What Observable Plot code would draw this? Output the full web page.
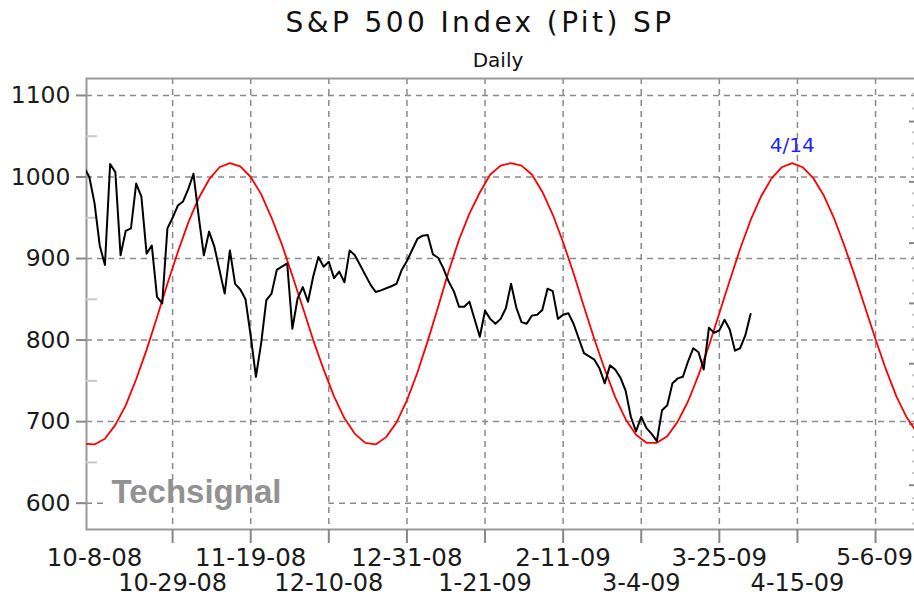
<!DOCTYPE html>
<html>
<head>
<meta charset="utf-8">
<script src="https://cdn.jsdelivr.net/npm/d3@7"></script>
<script src="https://cdn.jsdelivr.net/npm/@observablehq/plot@0.6"></script>
<style>
  html, body { margin: 0; padding: 0; background: #fff; overflow: hidden; }
  #wrap { position: relative; width: 914px; height: 596px; overflow: hidden; }
  #title { position: absolute; left: 480px; top: 9px; transform: translateX(-50%);
    font: 28px/28px "DejaVu Sans", Verdana, sans-serif; letter-spacing: 3.4px; color: #111; white-space: nowrap; }
  #subtitle { position: absolute; left: 498px; top: 50px; transform: translateX(-50%);
    font: 20px/20px "DejaVu Sans", Verdana, sans-serif; color: #111; white-space: nowrap; }
  #chart { position: absolute; left: 0; top: 72px; width: 930px; }
  #chart svg { max-width: none !important; width: 930px; height: 524px; }
</style>
</head>
<body>
<div id="wrap">
  <div id="title">S&amp;P 500 Index (Pit) SP</div>
  <div id="subtitle">Daily</div>
  <div id="chart"></div>
</div>
<script>
// ---- data ----
const tickDates = ["2008-10-08","2008-10-29","2008-11-19","2008-12-10","2008-12-31","2009-01-21","2009-02-11","2009-03-04","2009-03-25","2009-04-15","2009-05-06"];
const tickLabels = ["10-8-08","10-29-08","11-19-08","12-10-08","12-31-08","1-21-09","2-11-09","3-4-09","3-25-09","4-15-09","5-6-09"];
const yTicks = [600, 700, 800, 900, 1000, 1100];
const yMinorTicks = [650, 750, 850, 950, 1050];
const rightMajorTicks = [1068, 994, 919, 845, 771, 697, 622];
const rightMinorTicks = [1102, 1084, 1055, 1041, 1024, 1010, 980, 965, 951, 937, 902, 888, 873, 857, 831, 816, 802, 788, 757, 743, 728, 710, 681, 665, 651, 637, 606, 592, 575];

const blackDates = [
 "2008-10-06","2008-10-07","2008-10-08","2008-10-09","2008-10-10",
 "2008-10-13","2008-10-14","2008-10-15","2008-10-16","2008-10-17",
 "2008-10-20","2008-10-21","2008-10-22","2008-10-23","2008-10-24",
 "2008-10-27","2008-10-28","2008-10-29","2008-10-30","2008-10-31",
 "2008-11-03","2008-11-04","2008-11-05","2008-11-06","2008-11-07",
 "2008-11-10","2008-11-11","2008-11-12","2008-11-13","2008-11-14",
 "2008-11-17","2008-11-18","2008-11-19","2008-11-20","2008-11-21",
 "2008-11-24","2008-11-25","2008-11-26","2008-11-28",
 "2008-12-01","2008-12-02","2008-12-03","2008-12-04","2008-12-05",
 "2008-12-08","2008-12-09","2008-12-10","2008-12-11","2008-12-12",
 "2008-12-15","2008-12-16","2008-12-17","2008-12-18","2008-12-19",
 "2008-12-22","2008-12-23","2008-12-24","2008-12-26",
 "2008-12-29","2008-12-30","2008-12-31","2009-01-02",
 "2009-01-05","2009-01-06","2009-01-07","2009-01-08","2009-01-09",
 "2009-01-12","2009-01-13","2009-01-14","2009-01-15","2009-01-16",
 "2009-01-20","2009-01-21","2009-01-22","2009-01-23",
 "2009-01-26","2009-01-27","2009-01-28","2009-01-29","2009-01-30",
 "2009-02-02","2009-02-03","2009-02-04","2009-02-05","2009-02-06",
 "2009-02-09","2009-02-10","2009-02-11","2009-02-12","2009-02-13",
 "2009-02-17","2009-02-18","2009-02-19","2009-02-20",
 "2009-02-23","2009-02-24","2009-02-25","2009-02-26","2009-02-27",
 "2009-03-02","2009-03-03","2009-03-04","2009-03-05","2009-03-06",
 "2009-03-09","2009-03-10","2009-03-11","2009-03-12","2009-03-13",
 "2009-03-16","2009-03-17","2009-03-18","2009-03-19","2009-03-20",
 "2009-03-23","2009-03-24","2009-03-25","2009-03-26","2009-03-27",
 "2009-03-30","2009-03-31","2009-04-01","2009-04-02"
];
const blackValues = [
 1012, 1000, 968, 916, 892,
 1016, 1006, 904, 934, 937,
 992, 976, 906, 916, 853,
 845, 937, 950, 965, 970,
 985, 1004, 952, 904, 933,
 915, 886, 857, 910, 869,
 862, 850, 805, 755, 796,
 849, 857, 886, 894,
 814, 851, 865, 847, 878,
 902, 890, 896, 876, 884,
 871, 910, 904, 892, 880,
 868, 859, 861, 866,
 869, 886, 897, 924,
 928, 929, 905, 901, 888,
 872, 860, 841, 841, 847,
 804, 836, 826, 820,
 826, 839, 869, 840, 822,
 820, 830, 831, 837, 863,
 860, 826, 831, 833, 820,
 784, 780, 776, 765,
 747, 769, 764, 754, 738,
 706, 688, 706, 692, 685,
 676, 714, 720, 747, 753,
 755, 774, 790, 785, 764,
 815, 809, 812, 825, 813,
 787, 790, 806, 832
];

const redDates = [
 "2008-10-06","2008-10-08","2008-10-10","2008-10-14","2008-10-16","2008-10-20","2008-10-22","2008-10-24",
 "2008-10-28","2008-10-30","2008-11-03","2008-11-05","2008-11-07","2008-11-11","2008-11-13","2008-11-17",
 "2008-11-19","2008-11-21","2008-11-25","2008-11-27","2008-12-01","2008-12-03","2008-12-05","2008-12-09",
 "2008-12-11","2008-12-15","2008-12-17","2008-12-19","2008-12-23","2008-12-25","2008-12-29","2008-12-31",
 "2009-01-02","2009-01-06","2009-01-08","2009-01-12","2009-01-14","2009-01-16","2009-01-20","2009-01-22",
 "2009-01-26","2009-01-28","2009-01-30","2009-02-03","2009-02-05","2009-02-09","2009-02-11","2009-02-13",
 "2009-02-17","2009-02-19","2009-02-23","2009-02-25","2009-02-27","2009-03-03","2009-03-05","2009-03-09",
 "2009-03-11","2009-03-13","2009-03-17","2009-03-19","2009-03-23","2009-03-25","2009-03-27","2009-03-31",
 "2009-04-02","2009-04-06","2009-04-08","2009-04-10","2009-04-14","2009-04-16","2009-04-20","2009-04-22",
 "2009-04-24","2009-04-28","2009-04-30","2009-05-04","2009-05-06","2009-05-08","2009-05-12","2009-05-14",
 "2009-05-18","2009-05-20"
];
const redValues = [
 673, 672, 679, 696, 720, 752, 788, 828,
 869, 908, 944, 974, 997, 1012, 1017, 1013,
 1000, 979, 950, 917, 879, 840, 800, 764,
 731, 704, 685, 674, 672, 681, 699, 726,
 760, 799, 841, 884, 923, 955, 981, 1003,
 1014, 1017, 1014, 1003, 982, 954, 920, 882,
 841, 801, 764, 730, 703, 684, 674, 674,
 682, 700, 725, 757, 793, 833, 873, 912,
 947, 976, 998, 1012, 1017, 1012, 999, 978,
 950, 916, 879, 840, 801, 764, 731, 705,
 686, 675
];
const cycleTopDate = "2009-04-14";
const cycleTopLabel = "4/14";
const watermark = "Techsignal";

// ---- helpers: weekday-based axis (5 slots per week) ----
const originMs = Date.UTC(2008, 9, 6);
function wd(s) {
  const [y, m, d] = s.split("-").map(Number);
  const days = Math.round((Date.UTC(y, m - 1, d) - originMs) / 864e5);
  return Math.floor(days / 7) * 5 + (days % 7);
}
const blackSeries = blackDates.map((d, k) => ({i: wd(d), v: blackValues[k]}));
const redSeries = redDates.map((d, k) => ({i: wd(d), v: redValues[k]}));
const tickData = tickDates.map((d, k) => ({i: wd(d), label: tickLabels[k], row: k % 2}));
const lastTick = tickData.length - 1;
const gridTicks = tickData.slice(1).map(t => t.i);
const topIdx = redDates.indexOf(cycleTopDate);
const cycleTop = [{i: wd(cycleTopDate), v: redValues[topIdx], label: cycleTopLabel}];

const font = "DejaVu Sans, Verdana, sans-serif";
const gridStyle = {stroke: "#8a8a8a", strokeOpacity: 1, strokeWidth: 1.5, strokeDasharray: "6,5"};

const chart = Plot.plot({
  width: 930,
  height: 524,
  marginLeft: 86,
  marginRight: 12,
  marginTop: 6,
  marginBottom: 67,
  style: {fontFamily: font, background: "transparent", overflow: "visible", maxWidth: "none"},
  x: {type: "linear", domain: [0.46, 160.25]},
  y: {domain: [567.7, 1120.8]},
  marks: [
    Plot.gridY(yTicks, gridStyle),
    Plot.rect([{x1: wd("2008-10-10"), x2: wd("2008-12-10"), y1: 585, y2: 625}], {x1: "x1", x2: "x2", y1: "y1", y2: "y2", fill: "white"}),
    Plot.gridX(gridTicks, gridStyle),
    Plot.text([watermark], {frameAnchor: "bottom-left", dx: 25, dy: -27, text: d => d, textAnchor: "start", lineAnchor: "bottom",
      fontSize: 33, fontWeight: "bold", fill: "#929292", fontFamily: "Liberation Sans, Arial, sans-serif"}),
    Plot.frame({stroke: "#999", strokeWidth: 2}),
    Plot.axisY(yTicks, {anchor: "left", tickSize: 10, tickPadding: 6, stroke: "#888", strokeWidth: 2,
      fill: "#1a1a1a", fontSize: 23.5, tickFormat: d => String(d)}),
    Plot.axisY(yMinorTicks, {anchor: "left", tickSize: 11, dx: 11, stroke: "#c8c8c8", strokeWidth: 2, fill: "none", tickFormat: () => ""}),
    Plot.axisY(rightMajorTicks, {anchor: "right", tickSize: 10, dx: -10, stroke: "#888", strokeWidth: 2, fill: "none", tickFormat: () => ""}),
    Plot.axisY(rightMinorTicks, {anchor: "right", tickSize: 7, dx: -7, stroke: "#c8c8c8", strokeWidth: 2, fill: "none", tickFormat: () => ""}),
    Plot.axisX(gridTicks, {anchor: "bottom", tickSize: 14, stroke: "#888", strokeWidth: 2, fill: "none", tickFormat: () => ""}),
    Plot.text(tickData.filter((t, k) => t.row === 0 && k !== lastTick), {x: "i", text: "label", frameAnchor: "bottom", lineAnchor: "top", dy: 19, fontSize: 24.5, fill: "#1a1a1a"}),
    Plot.text(tickData.filter((t, k) => k === lastTick), {x: "i", text: "label", frameAnchor: "bottom", lineAnchor: "top", dy: 19, dx: -1, fontSize: 23.5, fill: "#1a1a1a"}),
    Plot.text(tickData.filter(t => t.row === 1), {x: "i", text: "label", frameAnchor: "bottom", lineAnchor: "top", dy: 44, fontSize: 24, fill: "#1a1a1a"}),
    Plot.line(redSeries, {x: "i", y: "v", stroke: "#ff0000", strokeWidth: 1.8, clip: true}),
    Plot.line(blackSeries, {x: "i", y: "v", stroke: "#000", strokeWidth: 2, clip: true}),
    Plot.text(cycleTop, {x: "i", y: "v", text: "label", dy: -11, lineAnchor: "bottom", fill: "#1f1fff", fontSize: 20})
  ]
});
document.getElementById("chart").appendChild(chart);
</script>
</body>
</html>
